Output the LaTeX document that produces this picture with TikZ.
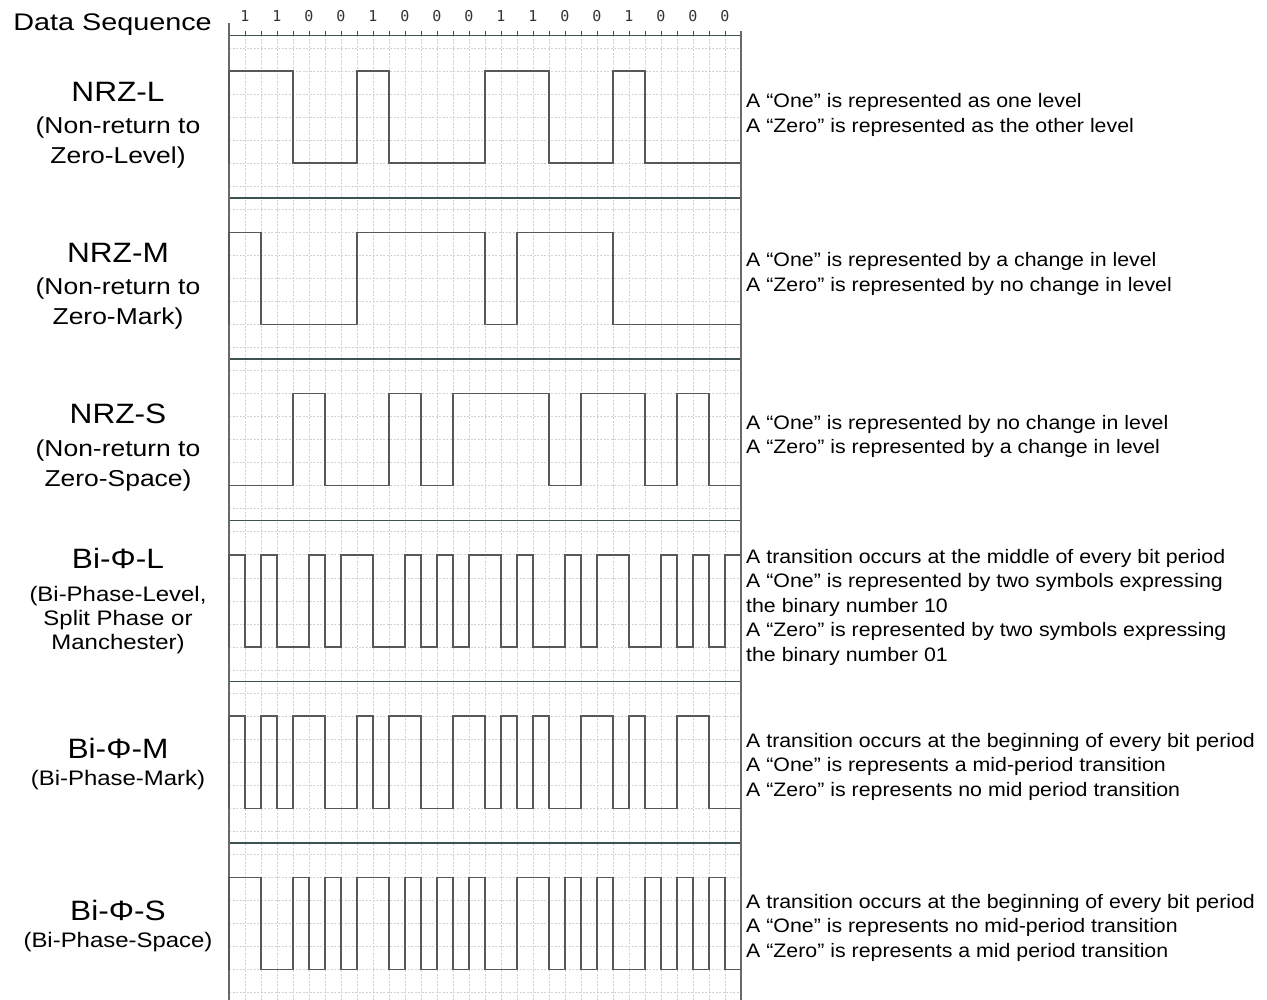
\documentclass[tikz,border=0pt]{standalone}
\usepackage{fontspec}
\usepackage{graphicx}
\setmainfont{Liberation Sans}
\newfontfamily\bitfont{DejaVu Sans Mono}
\definecolor{sepgray}{RGB}{62,82,82}
\definecolor{wavegray}{RGB}{88,88,88}
\definecolor{gridgray}{RGB}{210,210,210}
\definecolor{bordergray}{RGB}{105,105,105}
\newcommand{\wide}[2]{\scalebox{#1}[1]{#2}}
% #1 high y, #2 low y, #3 step, #4 levels
\newcommand{\wave}[4]{%
  \draw[wave] (229,#2) \foreach \v [count=\i from 0] in {#4} {
    -- ({229+#3*\i},{#2+(#1-#2)*\v}) -- ({229+#3*(\i+1)},{#2+(#1-#2)*\v})
  };
}
\tikzset{
  wave/.style={draw=wavegray, line width=1.4pt, line join=miter},
  gridline/.style={draw=gridgray, line width=0.8pt, dash pattern=on 2pt off 1.5pt},
  sepline/.style={draw=sepgray, line width=1.6pt},
  border/.style={draw=bordergray, line width=1.8pt},
  ttl/.style={anchor=base, inner sep=0pt, font=\fontsize{28}{30}\selectfont},
  sub/.style={anchor=base, inner sep=0pt, font=\fontsize{23}{26}\selectfont},
  bisub/.style={anchor=base, inner sep=0pt, font=\fontsize{21}{24}\selectfont},
  desc/.style={anchor=base west, inner sep=0pt, font=\fontsize{19.5}{24}\selectfont},
  bit/.style={anchor=base, inner sep=0pt, font=\bitfont\fontsize{15}{18}\selectfont, text=black!80}
}

\begin{document}
\begin{tikzpicture}[x=1pt, y=-1pt]
\useasboundingbox (0,0) rectangle (1267,1000);

\node[anchor=base east, inner sep=0pt, font=\fontsize{24}{28}\selectfont] (dataseq) at (212,31) {\wide{1.2}{Data Sequence}};

\foreach \b [count=\i from 0] in {1,1,0,0,1,0,0,0,1,1,0,0,1,0,0,0}
  \node[bit] (bit\i) at ({245+32*\i},22) {\b};

%grid
\foreach \x in {245,261,...,725}
  \draw[gridline] (\x,35.5) -- (\x,1000);
\foreach \k in {0,...,41}
  \draw[gridline] (229,{48+23.04*\k}) -- (741,{48+23.04*\k});

\foreach \k in {6.5,13.5,20.5,27.5,34.5}
  \draw[sepline] (229,{48+23.04*\k}) -- (741,{48+23.04*\k});

\draw[sepline] (229,35.5) -- (741,35.5);
\foreach \x in {245,261,...,725}
  \draw[sepline, line width=1pt] (\x,31.5) -- (\x,35.5);

\draw[border] (229,23) -- (229,1000);
\draw[border] (741,31) -- (741,1000);

%signals
\wave{71.04}{163.2}{32}{1,1,0,0,1,0,0,0,1,1,0,0,1,0,0,0}

\wave{232.32}{324.48}{32}{1,0,0,0,1,1,1,1,0,1,1,1,0,0,0,0}

\wave{393.6}{485.76}{32}{0,0,1,0,0,1,0,1,1,1,0,1,1,0,1,0}

\wave{554.88}{647.04}{16}{1,0,1,0,0,1,0,1,1,0,0,1,0,1,0,1,1,0,1,0,0,1,0,1,1,0,0,1,0,1,0,1}

\wave{716.16}{808.32}{16}{1,0,1,0,1,1,0,0,1,0,1,1,0,0,1,1,0,1,0,1,0,0,1,1,0,1,0,0,1,1,0,0}

\wave{877.44}{969.6}{16}{1,1,0,0,1,0,1,0,1,1,0,1,0,1,0,1,0,0,1,1,0,1,0,1,0,0,1,0,1,0,1,0}

%names
\node[ttl] (nrzl) at (118,102) {\wide{1.13}{NRZ-L}};
\node[sub] (nrzl-a) at (118,134) {\wide{1.15}{(Non-return to}};
\node[sub] (nrzl-b) at (118,164) {\wide{1.15}{Zero-Level)}};

\node[ttl] (nrzm) at (118,263) {\wide{1.13}{NRZ-M}};
\node[sub] (nrzm-a) at (118,295) {\wide{1.15}{(Non-return to}};
\node[sub] (nrzm-b) at (118,325) {\wide{1.15}{Zero-Mark)}};

\node[ttl] (nrzs) at (118,424) {\wide{1.13}{NRZ-S}};
\node[sub] (nrzs-a) at (118,456) {\wide{1.15}{(Non-return to}};
\node[sub] (nrzs-b) at (118,486) {\wide{1.15}{Zero-Space)}};

\node[ttl] (bil) at (118,568) {\wide{1.13}{Bi-Φ-L}};
\node[bisub] (bil-a) at (118,601) {\wide{1.14}{(Bi-Phase-Level,}};
\node[bisub] (bil-b) at (118,625) {\wide{1.14}{Split Phase or}};
\node[bisub] (bil-c) at (118,649) {\wide{1.14}{Manchester)}};

\node[ttl] (bim) at (118,758) {\wide{1.13}{Bi-Φ-M}};
\node[bisub] (bim-a) at (118,785) {\wide{1.14}{(Bi-Phase-Mark)}};

\node[ttl] (bis) at (118,920) {\wide{1.13}{Bi-Φ-S}};
\node[bisub] (bis-a) at (118,947) {\wide{1.14}{(Bi-Phase-Space)}};

%rules
\foreach \t [count=\i from 0] in {{A “One” is represented as one level},
    {A “Zero” is represented as the other level}}
  \node[desc] (nrzl-d\i) at (746,{108+24.5*\i}) {\wide{1.094}{\t}};

\foreach \t [count=\i from 0] in {{A “One” is represented by a change in level},
    {A “Zero” is represented by no change in level}}
  \node[desc] (nrzm-d\i) at (746,{267+24.5*\i}) {\wide{1.094}{\t}};

\foreach \t [count=\i from 0] in {{A “One” is represented by no change in level},
    {A “Zero” is represented by a change in level}}
  \node[desc] (nrzs-d\i) at (746,{429+24.5*\i}) {\wide{1.094}{\t}};

\foreach \t [count=\i from 0] in {{A transition occurs at the middle of every bit period},
    {A “One” is represented by two symbols expressing},
    {the binary number 10},
    {A “Zero” is represented by two symbols expressing},
    {the binary number 01}}
  \node[desc] (bil-d\i) at (746,{563+24.5*\i}) {\wide{1.094}{\t}};

\foreach \t [count=\i from 0] in {{A transition occurs at the beginning of every bit period},
    {A “One” is represents a mid-period transition},
    {A “Zero” is represents no mid period transition}}
  \node[desc] (bim-d\i) at (746,{747+24.5*\i}) {\wide{1.094}{\t}};

\foreach \t [count=\i from 0] in {{A transition occurs at the beginning of every bit period},
    {A “One” is represents no mid-period transition},
    {A “Zero” is represents a mid period transition}}
  \node[desc] (bis-d\i) at (746,{908+24.5*\i}) {\wide{1.094}{\t}};
\end{tikzpicture}
\end{document}
